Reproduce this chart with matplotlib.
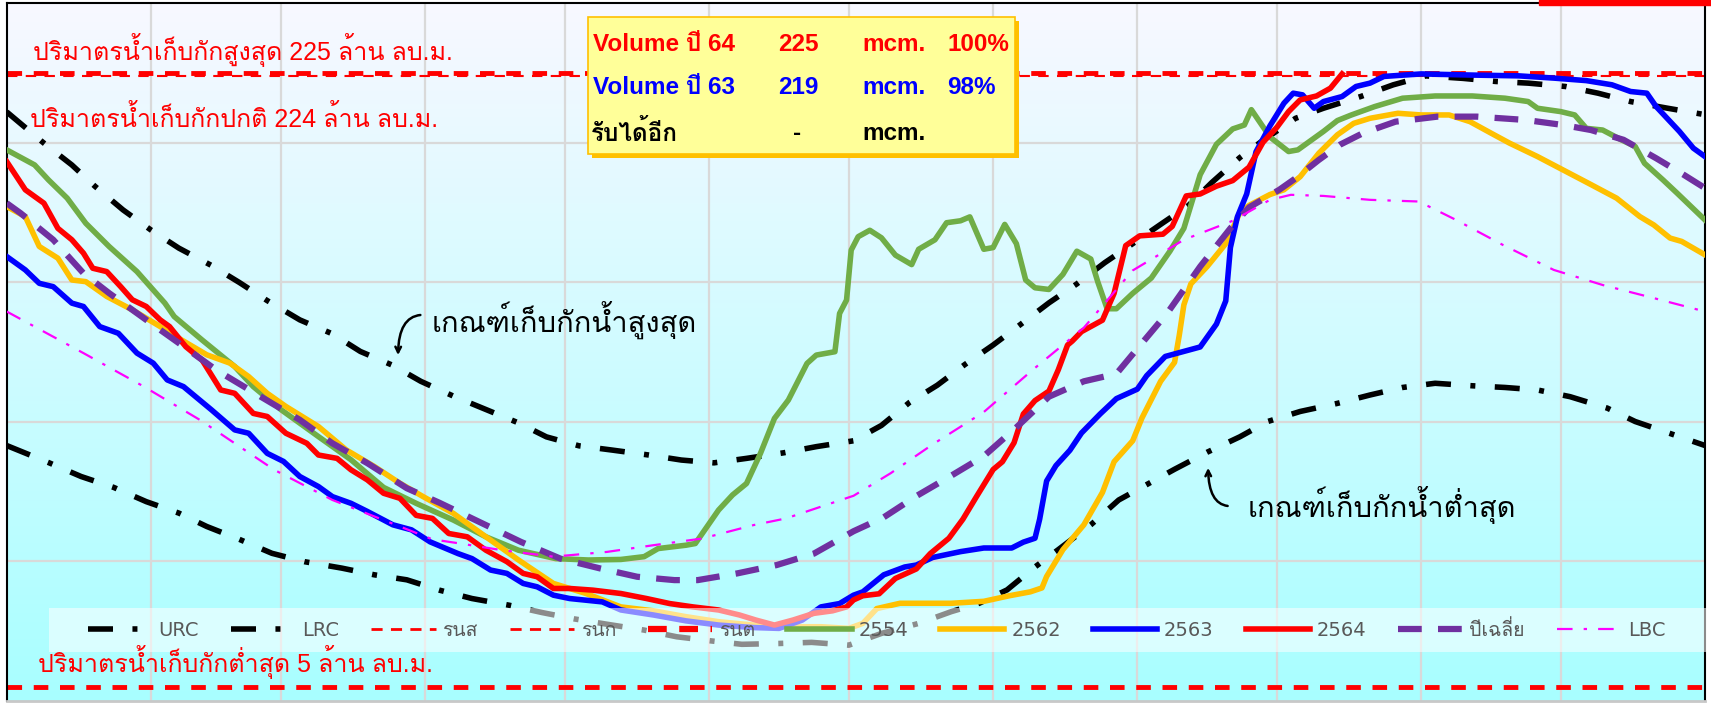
import numpy as np
import matplotlib
matplotlib.use('Agg')
import matplotlib.pyplot as plt
from matplotlib import font_manager
from matplotlib.ft2font import FT2Font
from matplotlib.lines import Line2D
from matplotlib.patches import Rectangle

# look for any installed font that has Thai glyphs
thai_font = None
for f in font_manager.fontManager.ttflist:
    try:
        if 0x0E01 in FT2Font(f.fname).get_charmap():
            thai_font = f.name
            break
    except Exception:
        pass
extra = [thai_font] if thai_font else []
plt.rcParams['font.family'] = ['DejaVu Sans'] + extra
arial = ['Liberation Sans'] + extra

# x = day of year (0 = 1 Jan), y = storage (million m3)
month_starts = [31, 59, 90, 120, 151, 181, 212, 243, 273, 304, 334]

urc_day = [0, 8, 14, 19, 25, 31, 37, 44, 50, 56, 63, 70, 76, 83, 89, 96, 103, 110, 116, 123,
           130, 138, 145, 152, 159, 167, 174, 182, 188, 194, 200, 206, 212, 218, 224, 230,
           236, 242, 248, 254, 259, 265, 270, 277, 283, 291, 298, 305, 313, 320, 327, 335,
           342, 349, 357, 365]
urc_vol = [211, 199.8, 192, 184.3, 175.9, 168.7, 162.2, 156, 149.9, 143.4, 136.5, 131.5, 125.2,
           120.2, 114.5, 109.2, 104.4, 99.6, 94.6, 91.4, 89.9, 88.1, 86.3, 85.3, 86.9, 88.9,
           91.1, 93.2, 98.7, 106.9, 113.1, 120.6, 127.5, 135, 142.6, 149.4, 157, 163.8, 170.7,
           177.5, 185.7, 194.6, 200.8, 208.7, 212.3, 216.5, 220.7, 223.9, 223, 221.9, 221.3,
           220.1, 217.7, 214.7, 212.3, 210]

lrc_day = [0, 9, 16, 23, 30, 37, 43, 50, 57, 64, 72, 79, 86, 93, 100, 108, 115, 122, 129, 137,
           144, 151, 158, 166, 173, 181, 188, 196, 203, 209, 215, 221, 226, 233, 239, 245, 251,
           258, 265, 271, 278, 286, 293, 300, 307, 315, 322, 329, 336, 344, 350, 357, 365]
lrc_vol = [91.5, 85.4, 80.4, 76.5, 71.4, 67.3, 62.5, 57.9, 52.9, 49.9, 47.6, 45.2, 43.4, 39.7,
           36.7, 34.3, 31.7, 29.4, 27.5, 25.4, 23, 21.6, 20.3, 20.6, 21, 20, 24.2, 27.8, 32, 35,
           39.8, 48, 54.2, 63.1, 72, 77.5, 83, 89.1, 94.6, 100.1, 103.7, 106.6, 109.6, 112.3,
           113.8, 112.9, 112.3, 111.4, 109, 104.9, 100.1, 96.1, 91.5]

y2554_day = [0, 6, 9, 13, 17, 22, 28, 34, 36, 42, 49, 53, 59, 67, 74, 81, 88, 96, 103, 110,
             118, 125, 132, 137, 140, 146, 148, 150, 153, 156, 159, 162, 165, 168, 172, 174,
             178, 179, 180.5, 181.5, 183, 185.5, 188, 191, 194.5, 196, 199.5, 202, 205, 207,
             210, 212, 214.5, 217, 219, 221, 224, 227, 230, 233, 234.5, 236.5, 238.5, 242,
             246, 250, 253, 254.5, 256.5, 260, 263.5, 266, 267.5, 271.5, 275.5, 277.5, 281,
             283, 286, 289, 294, 300, 307, 315, 322, 327, 329, 334, 337, 339.5, 343, 347, 350,
             352, 356, 359, 362, 365]
y2554_vol = [197.4, 192, 186.6, 180.1, 171.1, 162.8, 153.8, 142.5, 137.7, 129.3, 119.8, 112.6,
             104.3, 94.7, 86.4, 76.5, 70.8, 64.8, 58.8, 54, 51, 50.5, 50.7, 51.7, 54.6, 55.8,
             56.4, 61.2, 68.4, 73.8, 77.9, 88.7, 101.2, 107.8, 120.9, 123.9, 125.1, 138.8,
             143.6, 161.5, 166.3, 168.6, 165.9, 159.7, 156.3, 161.8, 165.2, 171.3, 172, 173.4,
             161.8, 162.4, 170.7, 163.8, 150.8, 148, 147.4, 152.8, 161.1, 158.3, 150.1, 140.5,
             140.5, 146, 151.5, 161.1, 169.3, 177.5, 188.5, 199.4, 204.9, 206.3, 211.8, 202,
             196.8, 197.4, 201.6, 204, 207.9, 209.9, 212.9, 215.9, 216.7, 216.7, 215.9, 214.7,
             212.3, 211.1, 209.9, 205.1, 204.5, 201, 198.6, 192.6, 186.6, 181.9, 177.1, 172.3]

y2562_day = [0, 4, 7, 11, 14, 17, 21.5, 27, 33, 37, 43, 48, 52, 56, 60, 67, 73, 79, 84.5, 89.5,
             96, 103, 110, 117.5, 124.5, 132, 139, 146, 153, 160.5, 167.5, 175, 181, 184, 187,
             192, 203, 210, 215.5, 220, 222.5, 223.5, 227, 231.5, 235.5, 238, 242, 244, 248,
             251, 252, 253, 254.5, 258, 262, 265, 267, 271.5, 274.5, 278, 282, 286, 289.5,
             293, 299, 304, 310, 314.5, 319, 323, 329, 334.5, 340, 346, 351, 354, 357.5, 360,
             365]
y2562_vol = [177.1, 173.5, 162.8, 158.6, 150.8, 150.2, 144.9, 140.1, 134.1, 129.9, 124, 121,
             116.2, 110.2, 105.5, 98.3, 89.9, 84, 78, 73.2, 67.2, 58.8, 50.5, 42.1, 38.5, 33.7,
             32.3, 30.2, 28.4, 27.2, 26.6, 26.6, 26, 27.8, 33.1, 35, 35, 35.7, 37.7, 39.1, 40.5,
             44.6, 54.2, 63.1, 74.7, 85.7, 93.2, 101.4, 114.5, 121.3, 130.9, 141.9, 149.4,
             155.6, 163.8, 174.8, 177.5, 181.4, 183.1, 187.8, 196.2, 202.8, 206.9, 208.7,
             210.5, 209.9, 209.9, 207.5, 203.4, 199.8, 195, 190.2, 185.4, 180.1, 173.5, 170.5,
             165.8, 164.6, 159.8]

y2563_day = [0, 4, 7, 10, 14, 16.5, 20, 24, 28, 31.5, 34.5, 38, 44, 49, 52, 56, 59.5, 63, 67,
             70, 74, 77.5, 83, 87, 91, 97, 100, 104, 107.5, 111, 114, 117.5, 121, 124.5, 128,
             132, 139, 146, 153, 160.5, 166, 171, 175, 179, 182, 184, 188.5, 193, 195.5, 199,
             205, 210, 216, 218.5, 221, 222, 223.5, 225.5, 228.5, 231, 235, 238.5, 243, 245,
             249, 256.5, 260, 262, 263, 264.5, 266.5, 268.5, 271.5, 274.5, 276.5, 278.5, 281,
             283, 287, 290, 293, 296, 304, 314.5, 325, 332.5, 339.5, 345, 349, 352.5, 354.5,
             359.5, 362.5, 365]
y2563_vol = [159.2, 154.4, 149.6, 148.4, 142.5, 141.3, 134.1, 131.7, 124.6, 121, 115, 112.6,
             104.3, 97.1, 95.9, 88.7, 85.8, 80.4, 76.8, 73.2, 70.8, 67.9, 63.1, 61.3, 57, 52.8,
             51, 46.9, 45.7, 42.1, 40.9, 37.9, 36.7, 36.1, 35.5, 32.6, 30.8, 28.7, 27.2, 26.3,
             26, 29, 33.7, 34.9, 37.9, 39.1, 45.2, 48, 48.7, 51.4, 53.5, 54.8, 54.8, 56.9, 58.3,
             65.1, 78.8, 84.3, 89.8, 96, 102.8, 108.3, 111.7, 116.5, 123.4, 126.8, 135, 143.3,
             162.4, 173.4, 181.6, 196.7, 206, 214.1, 217.7, 217.1, 212.3, 214.7, 216.5, 220.1,
             221.3, 223.7, 224.6, 224.2, 223.9, 223.1, 222.2, 220.7, 218.3, 217.7, 212.9, 204,
             198, 195]

y2564_day = [0, 4, 8, 11, 14, 16.5, 18.5, 21.5, 24.5, 27, 30, 33, 35, 38.5, 42, 46, 49, 53, 56,
             60, 64.5, 67, 71, 74, 77.5, 81, 84.5, 88, 91.5, 95, 99, 103, 107.5, 111, 114,
             117.5, 121, 126, 132, 137.5, 142.5, 147.5, 153, 157.5, 161, 165, 169, 173.5, 177.5,
             180.5, 182, 184, 187.5, 191, 195.5, 198.5, 202.5, 205.5, 208.5, 212, 214, 216.5,
             218.5, 221, 224, 226, 228, 229, 231, 235.5, 238, 240.5, 243.5, 248.5, 250.5,
             253.5, 256.5, 260, 263.5, 267, 270, 273, 275.5, 278, 281.5, 284.5, 287]
y2564_vol = [193.2, 183.1, 178.3, 169.3, 165.2, 160.4, 155, 153.8, 148.4, 143.7, 141.3, 136.5,
             134.1, 126.9, 122.1, 111.4, 110.2, 103, 101.9, 95.9, 92.3, 88.1, 86.9, 82.8, 79.2,
             74.4, 72.6, 66.5, 65.4, 60, 58.8, 54, 49.9, 45.7, 44.5, 40.3, 40.3, 39.7, 38.5,
             36.7, 34.9, 33.7, 32.6, 30.8, 29, 27.2, 29, 31.4, 32.3, 33.7, 36.2, 37.7, 38.4,
             43.9, 47.3, 52.8, 58.3, 65.1, 73.4, 82.9, 85.7, 92.5, 102.8, 107.6, 111, 118.6,
             127.5, 128.9, 132.3, 136.4, 146, 163.1, 166.6, 167.2, 170, 180.9, 181.6, 184.4,
             186.4, 191.2, 200.1, 205.5, 211.1, 215.3, 216.7, 219.5, 224.6]

avg_day = [0, 3, 10, 16.5, 22, 31, 38, 45, 54.5, 63, 70, 77.5, 86, 93, 101.5, 110.5, 119, 127.5,
           135.5, 143.5, 148.5, 157, 165.5, 173.5, 182, 188.5, 195.5, 202.5, 210, 217, 224,
           231.5, 238.5, 244, 249.5, 256.5, 263, 267, 273.5, 277, 282, 286.5, 291.5, 298.5,
           307.5, 316, 326.5, 334.5, 340.5, 347.5, 354.5, 360.5, 365]
avg_vol = [178.3, 174.7, 165.2, 153.2, 146.1, 135.3, 127, 118.6, 109.1, 100.7, 92.3, 85.2, 76.2,
           71, 64.2, 57, 51, 47.5, 44.5, 43.3, 43.3, 45.7, 48.7, 52.8, 60.8, 65.8, 73.4, 80.2,
           87.7, 98, 109, 114.5, 117.2, 128.2, 139.1, 155.6, 169.3, 176.8, 183.1, 187.2, 193.8,
           199.2, 203.4, 207.5, 209.3, 209.3, 208.1, 206.3, 204.5, 201, 194.4, 188.4, 183.7]

lbc_day = [0, 16.5, 29.5, 41.5, 57.5, 70, 84.5, 91.5, 97.5, 106.5, 117.5, 129, 139, 149.5, 160.5,
           167.5, 175, 182, 190, 199, 210, 220.5, 231.5, 242, 253, 263.5, 271.5, 276, 283, 293,
           303.5, 311.5, 321.5, 332.5, 343, 354, 365]
lbc_vol = [139.5, 124.6, 112.6, 100.7, 82.8, 72, 62.5, 57.9, 56.4, 54, 51.7, 53.4, 55.8, 58.2,
           63, 65.4, 69.6, 73.5, 81.6, 91.9, 103.5, 118.6, 133.7, 154.2, 165.2, 172, 179.5,
           181.3, 180.9, 179.5, 178.9, 172.3, 163.4, 154.4, 149, 144.3, 139.5]

max_storage = 225
normal_storage = 224
min_storage = 5

fig = plt.figure(figsize=(17.11, 7.06), dpi=100)
ax = fig.add_axes([6.7 / 1711, 5 / 706, (1705 - 6.7) / 1711, 698 / 706])

# gradient background
grad = np.linspace(0, 1, 256).reshape(-1, 1)
top = np.array([248, 248, 255]) / 255
bot = np.array([168, 255, 255]) / 255
img = top * (1 - grad[..., None]) + bot * grad[..., None]
ax.imshow(img, extent=[0, 365, 0, 250], aspect='auto', origin='upper', zorder=0)

ax.set_xlim(0, 365)
ax.set_ylim(0, 250)
ax.set_xticks(month_starts)
ax.set_yticks([50, 100, 150, 200])
ax.tick_params(length=0, labelbottom=False, labelleft=False)
ax.grid(True, color='#d9d9d9', lw=1.6, zorder=0.5)
for s in ['left', 'top', 'right']:
    ax.spines[s].set_color('black')
    ax.spines[s].set_linewidth(1.5)
ax.spines['bottom'].set_color('#c8c8c8')
ax.spines['bottom'].set_linewidth(2)

lw = 4
l_urc, = ax.plot(urc_day, urc_vol, color='black', lw=lw, dashes=(4.5, 3.5, 0.9, 3.5), label='URC', zorder=2)
l_lrc, = ax.plot(lrc_day, lrc_vol, color='black', lw=lw, dashes=(4.5, 3.5, 0.9, 3.5), label='LRC', zorder=2)
ax.plot([0, 365], [normal_storage] * 2, color='red', lw=1.5, dashes=(5, 4), zorder=2)
ax.plot([0, 365], [max_storage] * 2, color='red', lw=3.5, dashes=(3, 2.4), zorder=2)
ax.plot([0, 365], [min_storage] * 2, color='red', lw=3.5, dashes=(3, 2.4), zorder=2)
l54, = ax.plot(y2554_day, y2554_vol, color='#70ad47', lw=lw, label='2554', zorder=3)
l62, = ax.plot(y2562_day, y2562_vol, color='#ffc000', lw=lw, label='2562', zorder=3)
l63, = ax.plot(y2563_day, y2563_vol, color='#0000ff', lw=lw, label='2563', zorder=3)
l64, = ax.plot(y2564_day, y2564_vol, color='#ff0000', lw=lw, label='2564', zorder=3)
lavg, = ax.plot(avg_day, avg_vol, color='#7030a0', lw=lw + 0.5, dashes=(3.8, 2.6), label='ปีเฉลี่ย', zorder=3)
llbc, = ax.plot(lbc_day, lbc_vol, color='#ff00ff', lw=1.6, dashes=(7, 5, 1.5, 5), label='LBC', zorder=3)

# legend band (semi transparent, runs off the right edge)
ax.add_patch(Rectangle((49 / 1711, 1 - 652 / 706), 1, 44 / 706, transform=fig.transFigure,
                       facecolor='white', alpha=0.55, edgecolor='none', zorder=4, clip_on=False))
h_max = Line2D([], [], color='red', lw=2, dashes=(4, 3))
h_nor = Line2D([], [], color='red', lw=2, dashes=(4, 3))
h_min = Line2D([], [], color='red', lw=4.5, dashes=(3, 2))
handles = [l_urc, l_lrc, h_max, h_nor, h_min, l54, l62, l63, l64, lavg, llbc]
labels = ['URC', 'LRC', 'รนส', 'รนก', 'รนต', '2554', '2562', '2563', '2564', 'ปีเฉลี่ย', 'LBC']
leg = ax.legend(handles, labels, ncol=11, loc='center left',
                bbox_to_anchor=(80 / 1711, 1 - 630 / 706), bbox_transform=fig.transFigure,
                borderaxespad=0, fontsize=14, handlelength=3.3, handletextpad=0.35,
                columnspacing=1.65, frameon=False, borderpad=0.4, labelcolor='#595959')
leg.set_zorder(5)

# storage labels
ax.text(5.6, 233, 'ปริมาตรน้ำเก็บกักสูงสุด 225 ล้าน ลบ.ม.', color='red', fontsize=18,
        family=arial, va='center', zorder=5)
ax.text(5.0, 208.5, 'ปริมาตรน้ำเก็บกักปกติ 224 ล้าน ลบ.ม.', color='red', fontsize=18,
        family=arial, va='center', zorder=5)
ax.text(6.7, 14, 'ปริมาตรน้ำเก็บกักต่ำสุด 5 ล้าน ลบ.ม.', color='red', fontsize=18,
        family=arial, va='center', zorder=5)

# rule curve notes
ax.text(91.4, 136.5, 'เกณฑ์เก็บกักน้ำสูงสุด', color='black', fontsize=21, va='center', zorder=5)
ax.annotate('', xy=(84.1, 122.9), xytext=(89.5, 138.3),
            arrowprops=dict(arrowstyle='->', lw=1.8, color='black',
                            connectionstyle='angle3,angleA=180,angleB=90'), zorder=5)
ax.text(266.6, 70.2, 'เกณฑ์เก็บกักน้ำต่ำสุด', color='black', fontsize=21, va='center', zorder=5)
ax.annotate('', xy=(258.2, 84.5), xytext=(263, 69.8),
            arrowprops=dict(arrowstyle='->', lw=1.8, color='black',
                            connectionstyle='angle3,angleA=180,angleB=90'), zorder=5)

# yellow volume box
ax.add_patch(Rectangle((125.8, 194.4), 91.8, 49.1, facecolor='#ffc000', edgecolor='none', zorder=6))
ax.add_patch(Rectangle((124.9, 195.9), 91.8, 49.1, facecolor='#ffff99', edgecolor='#ffc000', lw=1.2, zorder=6))
box_rows = [235, 219.6, 203.4]
bf = dict(fontsize=17.5, fontweight='bold', family=arial, va='center', zorder=7)
ax.text(126, box_rows[0], 'Volume ปี 64', color='red', **bf)
ax.text(165.8, box_rows[0], '225', color='red', **bf)
ax.text(184, box_rows[0], 'mcm.', color='red', **bf)
ax.text(202.1, box_rows[0], '100%', color='red', **bf)
ax.text(126, box_rows[1], 'Volume ปี 63', color='#0000ff', **bf)
ax.text(165.8, box_rows[1], '219', color='#0000ff', **bf)
ax.text(184, box_rows[1], 'mcm.', color='#0000ff', **bf)
ax.text(202.1, box_rows[1], '98%', color='#0000ff', **bf)
ax.text(125.5, box_rows[2], 'รับได้อีก', color='black', **bf)
ax.text(169.8, box_rows[2], '-', color='black', ha='center', **bf)
ax.text(184, box_rows[2], 'mcm.', color='black', **bf)

fig.patches.append(Rectangle((1539 / 1711, 1 - 5 / 706), 172 / 1711, 5 / 706,
                             transform=fig.transFigure, color='red'))

fig.savefig('out.png', dpi=100)
